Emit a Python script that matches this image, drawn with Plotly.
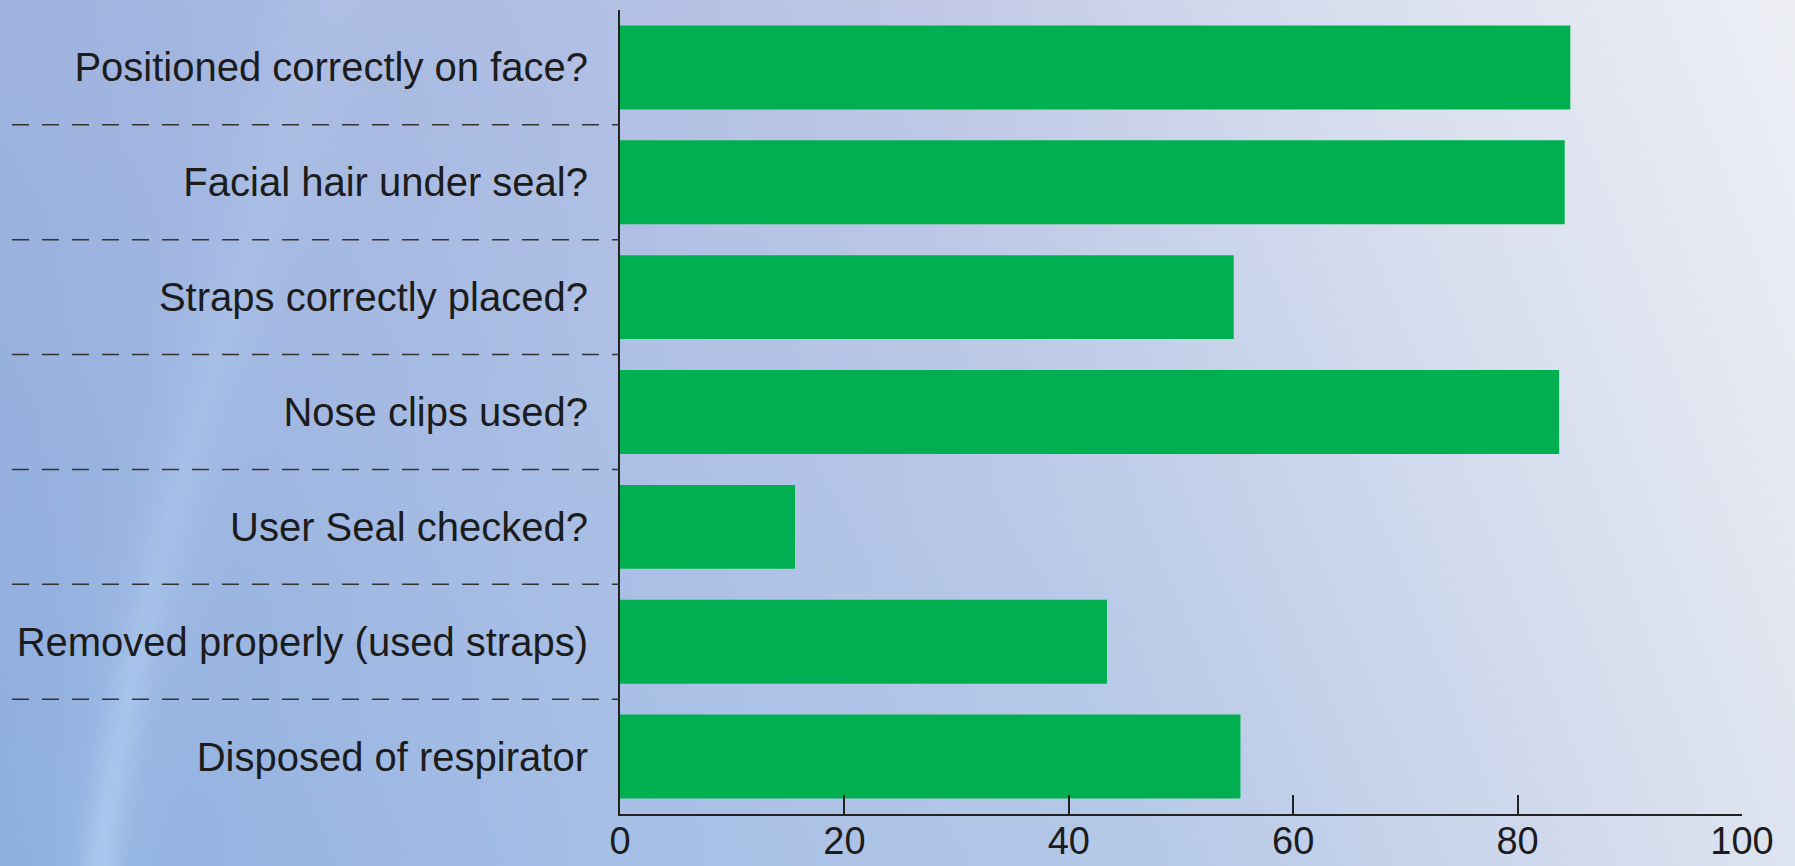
import base64
import struct
import zlib

import numpy as np
import plotly.graph_objects as go

# ---- data ----
categories = [
    "Positioned correctly on face?",
    "Facial hair under seal?",
    "Straps correctly placed?",
    "Nose clips used?",
    "User Seal checked?",
    "Removed properly (used straps)",
    "Disposed of respirator",
]
values = [84.7, 84.2, 54.7, 83.7, 15.6, 43.4, 55.3]
x_ticks = [0, 20, 40, 60, 80, 100]

# ---- layout geometry ----
W, H = 1795, 866
ML, MR, MT, MB = 620, 53, 10, 52
PW, PH = W - ML - MR, H - MT - MB


# ---- background gradient image ----
def make_png(arr):
    h, w, _ = arr.shape
    raw = b"".join(b"\x00" + arr[r].tobytes() for r in range(h))

    def chunk(tag, data):
        c = struct.pack(">I", len(data)) + tag + data
        return c + struct.pack(">I", zlib.crc32(tag + data) & 0xFFFFFFFF)

    return (b"\x89PNG\r\n\x1a\n"
            + chunk(b"IHDR", struct.pack(">IIBBBBB", w, h, 8, 2, 0, 0, 0))
            + chunk(b"IDAT", zlib.compress(raw, 9))
            + chunk(b"IEND", b""))


gw, gh = 898, 433
xs = np.linspace(0, W, gw)
ys = np.linspace(0, H, gh)
top_x = [0, 600, 920, 1300, 1795]
top_c = [(159, 179, 223), (178, 192, 228), (192, 200, 230), (215, 221, 238), (238, 240, 245)]
bot_x = [0, 600, 1130, 1500, 1795]
bot_c = [(141, 175, 224), (166, 191, 230), (180, 201, 232), (205, 215, 236), (222, 228, 240)]
top = np.stack([np.interp(xs, top_x, [c[k] for c in top_c]) for k in range(3)], -1)
bot = np.stack([np.interp(xs, bot_x, [c[k] for c in bot_c]) for k in range(3)], -1)
t = (ys / H)[:, None, None]
img = top[None, :, :] * (1 - t) + bot[None, :, :] * t
X, Y = np.meshgrid(xs, ys)
xc = 100 + 230 * (1 - Y / H) ** 1.3
amp = 18 * (Y / H) ** 2
img += (amp * np.exp(-((X - xc) / 20) ** 2))[..., None] * np.array([1.0, 1.0, 0.5])
img += (5 * np.exp(-((X - xc) / 55) ** 2))[..., None] * np.array([1.0, 1.0, 0.6])
img = np.clip(img, 0, 255).astype(np.uint8)
bg_src = "data:image/png;base64," + base64.b64encode(make_png(img)).decode()

# ---- figure ----
fig = go.Figure(
    go.Bar(
        x=values,
        y=categories,
        orientation="h",
        marker=dict(color="#00B050", line=dict(width=0)),
        hoverinfo="skip",
    )
)

shapes = []
for i in range(len(categories) - 1):
    shapes.append(dict(
        type="line", xref="paper", yref="y",
        x0=(12 - ML) / PW, x1=0, y0=i + 0.5, y1=i + 0.5,
        line=dict(color="#333333", width=1.5, dash="17px,13px"),
        layer="above",
    ))

fig.update_layout(
    width=W, height=H,
    autosize=False,
    margin=dict(l=ML, r=MR, t=MT, b=MB, pad=0, autoexpand=False),
    paper_bgcolor="#b8c6e6",
    plot_bgcolor="rgba(0,0,0,0)",
    bargap=0.269,
    showlegend=False,
    font=dict(family="Liberation Sans, Arial, sans-serif", size=40, color="#1c1c1c"),
    shapes=shapes,
    images=[dict(
        source=bg_src, xref="paper", yref="paper",
        x=-ML / PW, y=1 + MT / PH, sizex=W / PW, sizey=H / PH,
        xanchor="left", yanchor="top", sizing="stretch", layer="below",
    )],
    xaxis=dict(
        range=[0, 100], tickvals=x_ticks, ticktext=[str(v) for v in x_ticks],
        showgrid=False, zeroline=False, automargin=False,
        showline=True, linecolor="#222222", linewidth=2,
        ticks="inside", ticklen=19, tickwidth=2, tickcolor="#222222",
        ticklabelstandoff=-8,
        tickfont=dict(size=38, color="#1c1c1c"),
        fixedrange=True,
    ),
    yaxis=dict(
        autorange="reversed", showgrid=False, zeroline=False, automargin=False,
        showline=True, linecolor="#222222", linewidth=2,
        ticks="outside", ticklen=22, tickcolor="rgba(0,0,0,0)",
        tickfont=dict(size=40, color="#1c1c1c"),
        fixedrange=True,
    ),
)

fig.write_html("out.html", config={"displayModeBar": False})
